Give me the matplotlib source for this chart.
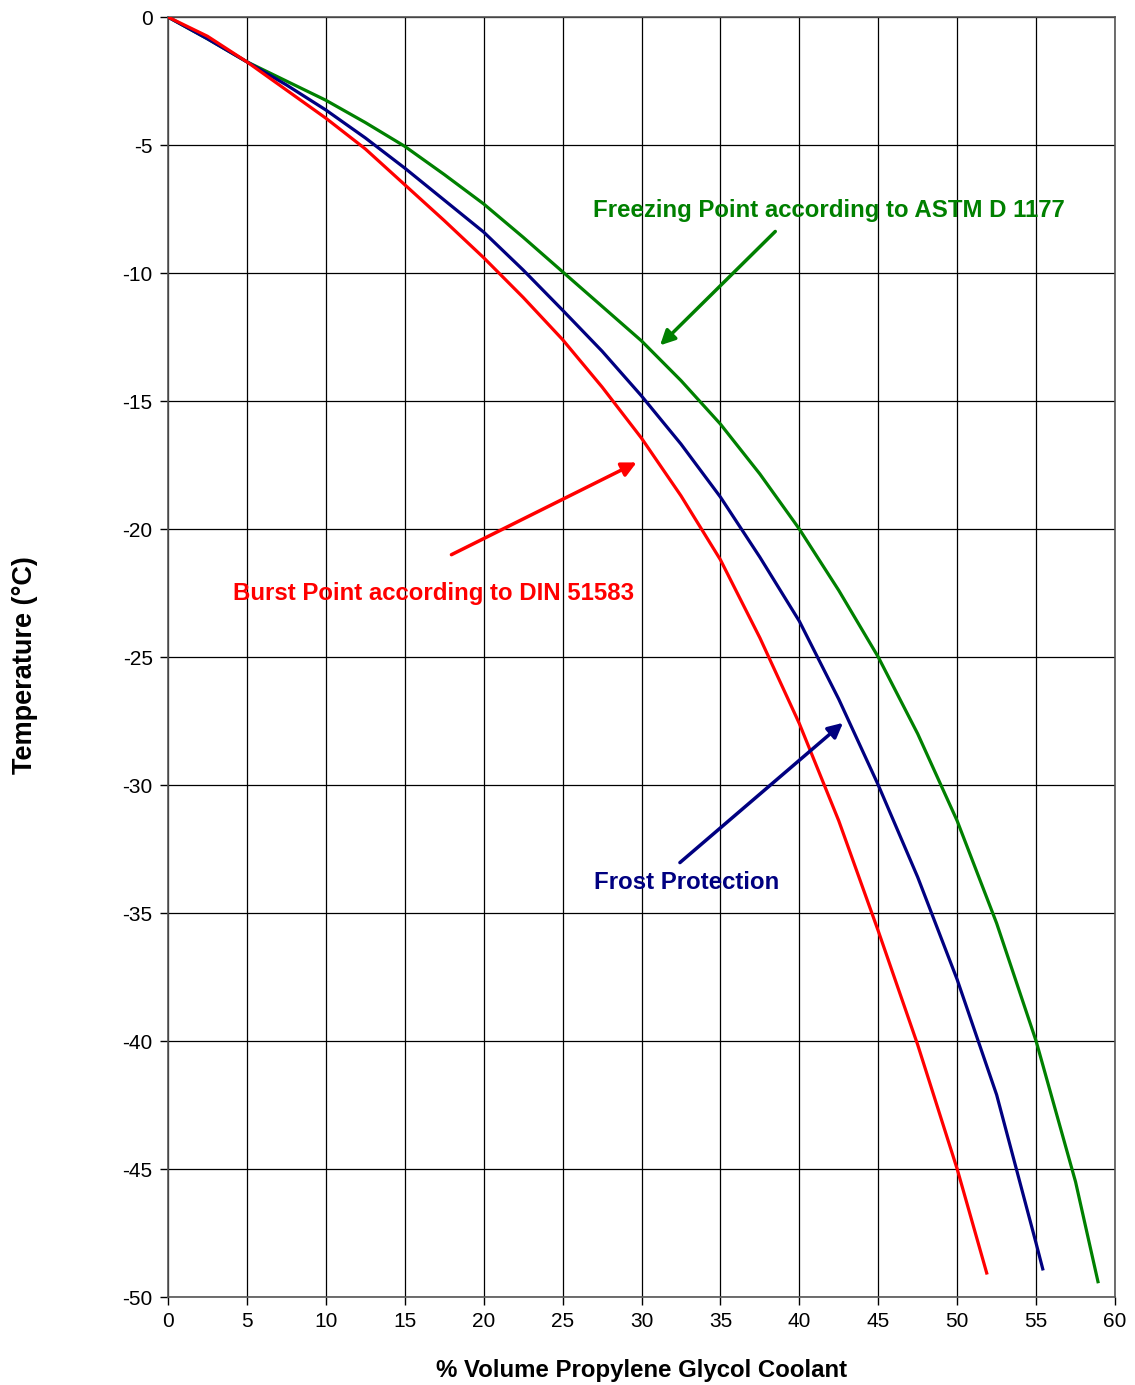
import matplotlib
matplotlib.use("Agg")
import matplotlib.pyplot as plt

plt.rcParams["font.family"] = ["Liberation Sans", "DejaVu Sans"]
plt.rcParams["axes.unicode_minus"] = False

# % volume propylene glycol
pct_green = [0, 2.5, 5, 7.5, 10, 12.5, 15, 17.5, 20, 22.5, 25, 27.5, 30, 32.5,
             35, 37.5, 40, 42.5, 45, 47.5, 50, 52.5, 55, 57.5, 58.92]
freezing = [0, -0.85, -1.75, -2.5, -3.25, -4.12, -5.05, -6.15, -7.3, -8.6, -9.95,
            -11.3, -12.65, -14.2, -15.9, -17.85, -20.0, -22.4, -25.0, -28.0,
            -31.4, -35.4, -40.0, -45.5, -49.4]

pct_blue = [0, 2.5, 5, 7.5, 10, 12.5, 15, 17.5, 20, 22.5, 25, 27.5, 30, 32.5,
            35, 37.5, 40, 42.5, 45, 47.5, 50, 52.5, 55, 55.42]
frost = [0, -0.85, -1.75, -2.65, -3.63, -4.72, -5.9, -7.15, -8.4, -9.88, -11.45,
         -13.05, -14.8, -16.68, -18.75, -21.1, -23.6, -26.65, -30.0, -33.6,
         -37.6, -42.1, -47.9, -48.9]

pct_red = [0, 2.5, 5, 7.5, 10, 12.5, 15, 17.5, 20, 22.5, 25, 27.5, 30, 32.5,
           35, 37.5, 40, 42.5, 45, 47.5, 50, 51.87]
burst = [0, -0.75, -1.75, -2.85, -3.95, -5.15, -6.55, -7.95, -9.4, -10.95, -12.6,
         -14.45, -16.45, -18.7, -21.2, -24.25, -27.6, -31.4, -35.7, -40.15, -45.0,
         -49.06]

GREEN = "#008000"
BLUE = "#000080"
RED = "#FF0000"

fig = plt.figure(figsize=(11.35, 13.85), dpi=100)
ax = fig.add_axes([0.148, 0.0635, 0.8344, 0.9242])

ax.plot(pct_green, freezing, color=GREEN, lw=2.3, zorder=3)
ax.plot(pct_blue, frost, color=BLUE, lw=2.3, zorder=3)
ax.plot(pct_red, burst, color=RED, lw=2.3, zorder=3)

ax.set_xlim(0, 60)
ax.set_ylim(-50, 0)
ax.set_xticks(range(0, 61, 5))
ax.set_yticks(range(-50, 1, 5))
ax.grid(True, color="black", lw=0.9)
ax.set_axisbelow(True)
for s in ax.spines.values():
    s.set_color("#555555")
    s.set_linewidth(1.2)
ax.tick_params(labelsize=15, length=6, width=1, pad=5)

ax.set_xlabel("% Volume Propylene Glycol Coolant", fontsize=17.3, fontweight="bold", labelpad=20)
fig.text(25 / 1135, 1 - 665 / 1385, "Temperature (°C)", rotation=90, fontsize=19.5,
         fontweight="bold", ha="center", va="center")

# annotations
ax.annotate("", xy=(31.05, -12.9), xytext=(38.6, -8.3),
            arrowprops=dict(arrowstyle="-|>", color=GREEN, lw=2.5, mutation_scale=22))
ax.text(26.9, -7.55, "Freezing Point according to ASTM D 1177", color=GREEN,
        fontsize=17.3, fontweight="bold", va="center", ha="left")

ax.annotate("", xy=(29.85, -17.35), xytext=(17.8, -21.05),
            arrowprops=dict(arrowstyle="-|>", color=RED, lw=2.5, mutation_scale=22))
ax.text(4.1, -22.5, "Burst Point according to DIN 51583", color=RED,
        fontsize=17.3, fontweight="bold", va="center", ha="left")

ax.annotate("", xy=(42.9, -27.5), xytext=(32.3, -33.1),
            arrowprops=dict(arrowstyle="-|>", color=BLUE, lw=2.5, mutation_scale=22))
ax.text(27.0, -33.8, "Frost Protection", color=BLUE,
        fontsize=17.3, fontweight="bold", va="center", ha="left")

plt.savefig("out.png", dpi=100)
plt.close()
